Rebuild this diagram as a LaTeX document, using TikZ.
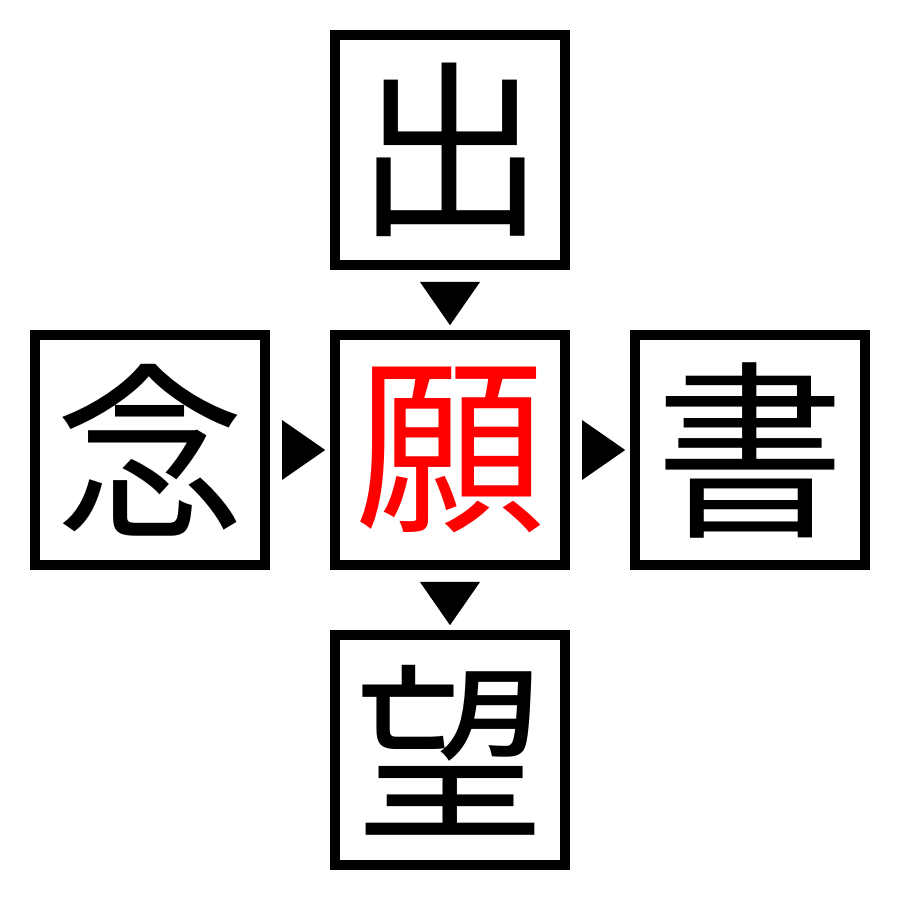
\documentclass[tikz,border=0pt]{standalone}
\usepackage{fontspec}
\usetikzlibrary{calc}
\newfontfamily\cjk{Noto Sans CJK JP}
\tikzset{
	kbox/.style={draw=black, line width=1mm, minimum size=2.3cm, inner sep=0pt, font=\cjk\fontsize{54}{54}\selectfont}
}
\begin{document}
\begin{tikzpicture}
	\useasboundingbox (0,0) rectangle (9,9);
	\node[kbox] (k0) at (4.5,7.5) {出};
	\node[kbox] (k1) at (1.5,4.5) {念};
	\node[kbox, text=red] (k2) at (4.5,4.5) {願};
	\node[kbox] (k3) at (7.5,4.5) {書};
	\node[kbox] (k4) at (4.5,1.5) {望};

	\foreach \a/\b in {k0/k2, k2/k4}{
	\fill[color=black] ($(\a.south)!0.2!(\b.north)+(-0.3,0)$) -- ($(\a.south)!0.2!(\b.north)+(0.3,0)$) -- ($(\a.south)!0.92!(\b.north)$) -- cycle;
	}
	\foreach \a/\b in {k1/k2, k2/k3}{
	\fill[color=black] ($(\a.east)!0.2!(\b.west)+(0,0.3)$) -- ($(\a.east)!0.2!(\b.west)+(0,-0.3)$) -- ($(\a.east)!0.92!(\b.west)$) -- cycle;
	}
\end{tikzpicture}
\end{document}
